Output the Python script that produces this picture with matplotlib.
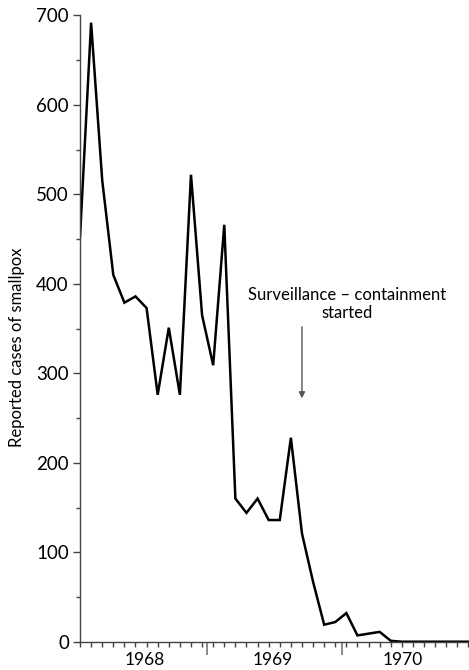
import numpy as np
import matplotlib
matplotlib.use("Agg")
import matplotlib.pyplot as plt
from matplotlib.ticker import MultipleLocator, FixedLocator

plt.rcParams['font.family'] = ['Lato', 'DejaVu Sans']

# monthly reported cases, starting early 1968
cases = [452, 692, 516, 410, 379, 386, 373, 276, 351, 276,
         522, 365, 309, 466, 160, 144, 160, 136, 136, 228,
         121, 67, 19, 22, 32, 7, 9, 11, 1, 0,
         0, 0, 0, 0, 0, 0]
year_labels = ['1968', '1969', '1970']
year_label_pos = [5.8, 17.4, 29.1]
year_bounds = [11.45, 23.6]
note_text = 'Surveillance \u2013 containment\nstarted'

months = np.arange(len(cases))

fig = plt.figure(figsize=(4.69, 6.70), dpi=100)
ax = fig.add_axes([80 / 469, 28.3 / 670, 1 - 80 / 469, (641.7 - 15.5) / 670])

ax.plot(months, cases, color='black', lw=1.8, solid_joinstyle='miter')

ax.set_xlim(0, 35.05)
ax.set_ylim(0, 700)

for s in ['top', 'right']:
    ax.spines[s].set_visible(False)
for s in ['left', 'bottom']:
    ax.spines[s].set_color('#444444')
    ax.spines[s].set_linewidth(1.0)

# y ticks
ax.yaxis.set_major_locator(MultipleLocator(100))
ax.yaxis.set_minor_locator(MultipleLocator(50))
ax.tick_params(axis='y', which='major', length=5, width=1, color='#444444',
               labelsize=13.5, pad=3)
ax.tick_params(axis='y', which='minor', length=3, width=1, color='#444444')
fig.text(17 / 469, (670 - 347) / 670, 'Reported cases of smallpox', fontsize=12,
         rotation=90, ha='center', va='center', rotation_mode='anchor')

# x ticks: small monthly ticks pointing down, longer ones at year change
ax.xaxis.set_minor_locator(FixedLocator(list(np.arange(0, 36)) + year_bounds))
ax.xaxis.set_major_locator(FixedLocator(year_bounds))
ax.tick_params(axis='x', which='minor', direction='out', length=3.5, width=1, color='#444444')
ax.tick_params(axis='x', which='major', direction='out', length=9, width=1.2,
               color='#777777', labelbottom=False)
for lab, pos in zip(year_labels, year_label_pos):
    ax.text(pos, -20, lab, ha='center', va='center', fontsize=12.5, clip_on=False)

ax.text(24.1, 377, note_text, ha='center', va='center', fontsize=12, linespacing=1.15)
ax.annotate('', xy=(20, 272), xytext=(20, 352),
            arrowprops=dict(arrowstyle='-|>', color='#555555', lw=1,
                            mutation_scale=9, shrinkA=0, shrinkB=0))

fig.savefig('out.png', dpi=100)
